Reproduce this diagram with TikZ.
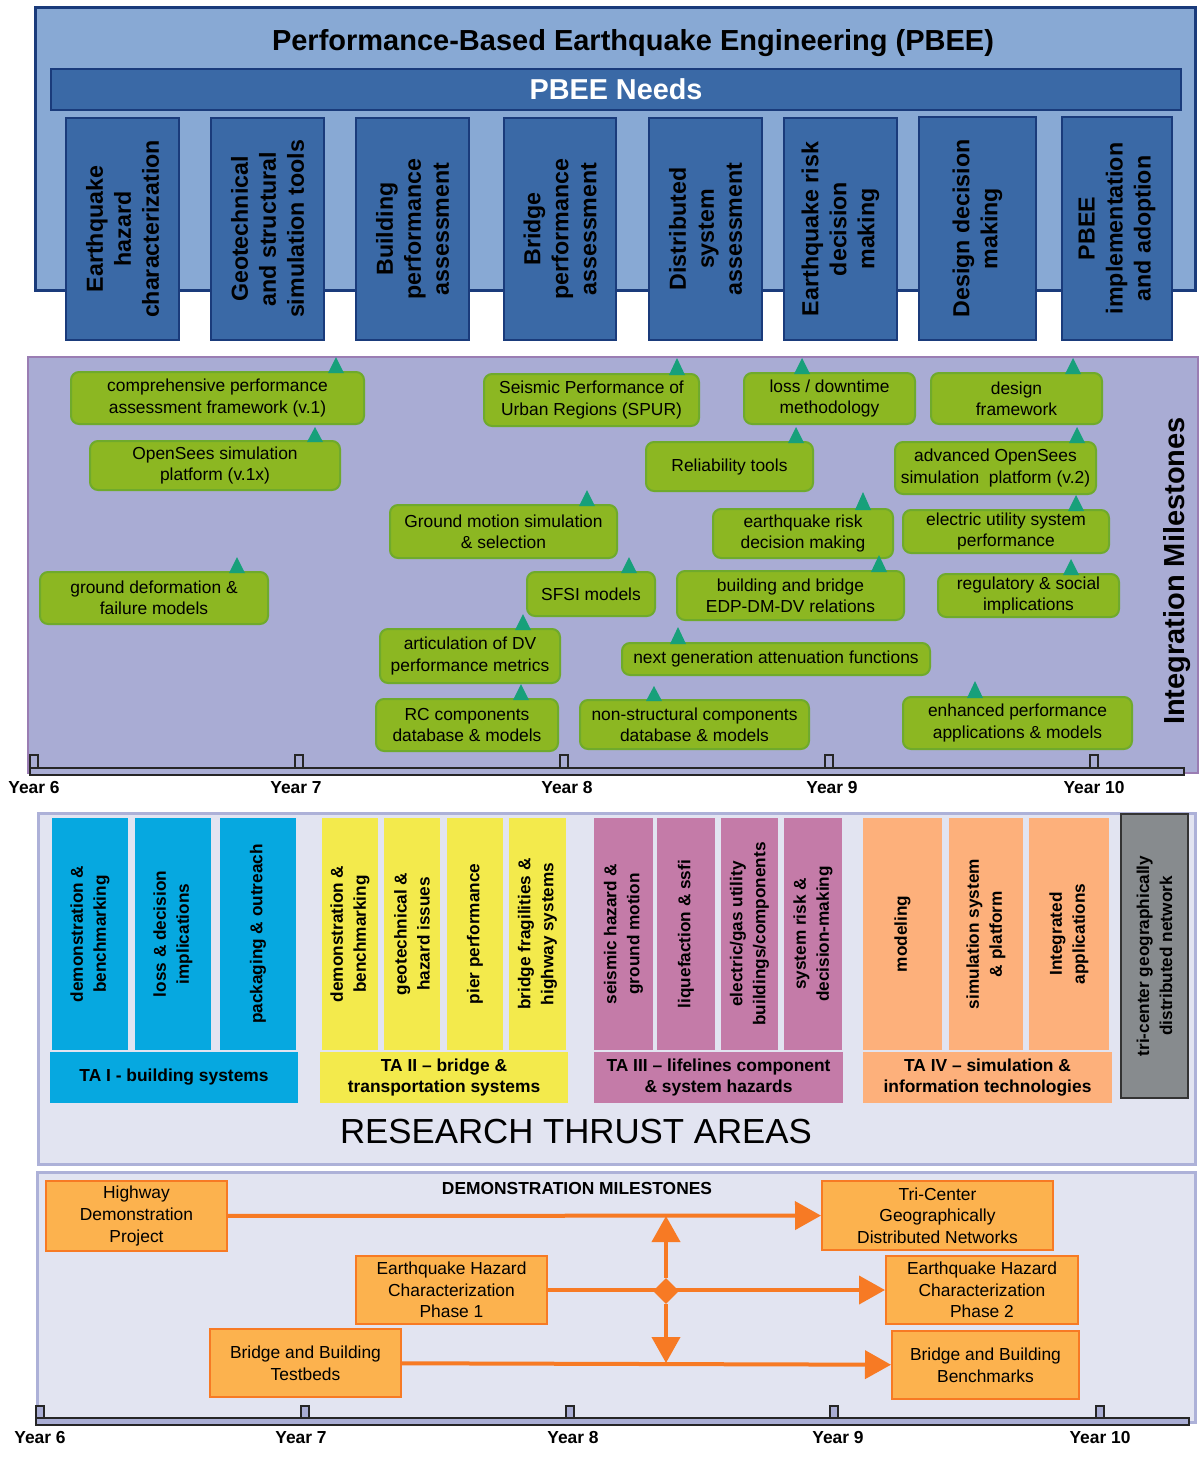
\documentclass[tikz,border=0pt]{standalone}
\usepackage{fontspec}
\setmainfont{Liberation Sans}
\usepackage{tikz}
\usetikzlibrary{arrows.meta,shapes.geometric}
\definecolor{navy}{HTML}{1A3B7B}
\definecolor{skyfill}{HTML}{88A9D4}
\definecolor{needfill}{HTML}{3A69A6}
\definecolor{lavfill}{HTML}{A9ACD4}
\definecolor{lavline}{HTML}{9A7DB3}
\definecolor{msfill}{HTML}{8CB722}
\definecolor{msline}{HTML}{6FAA2C}
\definecolor{msmark}{HTML}{17A07A}
\definecolor{tafill}{HTML}{E2E4F1}
\definecolor{taline}{HTML}{ADB1D8}
\definecolor{taone}{HTML}{06A8E0}
\definecolor{tatwo}{HTML}{F3EA4C}
\definecolor{tathree}{HTML}{C47BA8}
\definecolor{tafour}{HTML}{FDB07B}
\definecolor{netfill}{HTML}{878B8E}
\definecolor{demofill}{HTML}{FCB24E}
\definecolor{demoline}{HTML}{F77A24}
\definecolor{tlfill}{HTML}{A9ADD4}

\begin{document}
\begin{tikzpicture}[x=0.5pt,y=-0.5pt,
            sz/.style 2 args={minimum width=#1*0.5pt,minimum height=#2*0.5pt},
            need/.style={draw=navy,fill=needfill,line width=1pt,rotate=90,align=center,inner sep=0pt,font=\fontsize{11.6}{14}\selectfont\bfseries},
            ms/.style={draw=msline,fill=msfill,line width=1pt,rounded corners=4pt,align=center,inner sep=0pt,font=\fontsize{8.7}{10.6}\selectfont},
            msflag/.style={fill=msmark},
            col/.style={rotate=90,align=center,inner sep=0pt,font=\fontsize{8.6}{11.5}\selectfont\bfseries},
            ta/.style={align=center,inner sep=0pt,font=\fontsize{8.7}{10.5}\selectfont\bfseries},
            demo/.style={draw=demoline,fill=demofill,line width=1pt,align=center,inner sep=0pt,font=\fontsize{8.7}{10.8}\selectfont},
            link/.style={draw=demoline,line width=2pt,-{Triangle[length=13pt,width=14pt]}},
            tline/.style={draw=black!85,fill=tlfill,line width=0.8pt},
            yr/.style={anchor=base,inner sep=0pt,font=\fontsize{8.7}{10}\selectfont\bfseries}]
            \useasboundingbox (0,0) rectangle (1199,1458);
            % PBEE needs
            \draw[draw=navy,fill=skyfill,line width=1.5pt] (35,7) rectangle (1195,290);
            \node[anchor=base,font=\fontsize{14.5}{16}\selectfont\bfseries] (pbee) at (633,50) {Performance-Based Earthquake Engineering (PBEE)};
            \node[draw=navy,fill=needfill,line width=1pt,sz={1130}{41},inner sep=0pt,text=white,font=\fontsize{14.4}{16}\selectfont\bfseries] (needs) at (616,89.5) {PBEE Needs};
            \node[need,sz={222}{113}] (n1) at (122.5,229) {Earthquake\\hazard\\characterization};
            \node[need,sz={222}{113}] (n2) at (267.5,229) {Geotechnical\\and structural\\simulation tools};
            \node[need,sz={222}{113}] (n3) at (412.5,229) {Building\\performance\\assessment};
            \node[need,sz={222}{112}] (n4) at (560,229) {Bridge\\performance\\assessment};
            \node[need,sz={222}{113}] (n5) at (705.5,229) {Distributed\\system\\assessment};
            \node[need,sz={222}{113}] (n6) at (840.5,229) {Earthquake risk\\decision\\making};
            \node[need,sz={223}{117}] (n7) at (977.5,228.5) {Design decision\\making};
            \node[need,sz={223}{110}] (n8) at (1117,228.5) {PBEE\\implementation\\and adoption};
            % integration milestones
            \draw[draw=lavline,fill=lavfill,line width=1pt] (28,357) rectangle (1198,773);
            \node[rotate=90,font=\fontsize{14.5}{16}\selectfont\bfseries] (intm) at (1177,571) {Integration Milestones};
            \node[ms,sz={293}{52}] (g1) at (217.5,398) {comprehensive performance\\assessment framework (v.1)};
            \node[ms,sz={250}{49}] (g2) at (215,465.5) {OpenSees simulation\\platform (v.1x)};
            \node[ms,sz={227}{53}] (g3) at (503.5,531.5) {Ground motion simulation\\\& selection};
            \node[ms,sz={228}{52}] (g4) at (154,598) {ground deformation \&\\failure models};
            \node[ms,sz={128}{44}] (g5) at (591,594) {SFSI models};
            \node[ms,sz={180}{54}] (g6) at (470,656) {articulation of DV\\performance metrics};
            \node[ms,sz={182}{52}] (g7) at (467,725) {RC components\\database \& models};
            \node[ms,sz={215}{52}] (g8) at (591.5,400) {Seismic Performance of\\Urban Regions (SPUR)};
            \node[ms,sz={171}{51}] (g9) at (829.5,398.5) {loss / downtime\\methodology};
            \node[ms,sz={171}{51}] (g10) at (1016.5,398.5) {design\\framework};
            \node[ms,sz={167}{49}] (g11) at (729.5,466.5) {Reliability tools};
            \node[ms,sz={201}{52}] (g12) at (995.5,468) {advanced OpenSees\\simulation\ \ platform (v.2)};
            \node[ms,sz={180}{49}] (g13) at (803,533.5) {earthquake risk\\decision making};
            \node[ms,sz={206}{43}] (g14) at (1006,531.5) {electric utility system\\performance};
            \node[ms,sz={227}{49}] (g15) at (790.5,595.5) {building and bridge\\EDP-DM-DV relations};
            \node[ms,sz={181}{43}] (g16) at (1028.5,595.5) {regulatory \& social\\implications};
            \node[ms,sz={308}{32}] (g17) at (776,659) {next generation attenuation functions};
            \node[ms,sz={229}{49}] (g18) at (694.5,724.5) {non-structural components\\database \& models};
            \node[ms,sz={229}{52}] (g19) at (1017.5,723) {enhanced performance\\applications \& models};
            \fill[msflag] (328,373) -- (344,373) -- (336,357) -- cycle;
            \fill[msflag] (307,442) -- (323,442) -- (315,427) -- cycle;
            \fill[msflag] (579,506) -- (595,506) -- (587,490) -- cycle;
            \fill[msflag] (229,573) -- (245,573) -- (237,557) -- cycle;
            \fill[msflag] (621,573) -- (637,573) -- (629,557) -- cycle;
            \fill[msflag] (515,630) -- (531,630) -- (523,614) -- cycle;
            \fill[msflag] (513,700) -- (529,700) -- (521,684) -- cycle;
            \fill[msflag] (669,375) -- (685,375) -- (677,358) -- cycle;
            \fill[msflag] (794,374) -- (810,374) -- (802,358) -- cycle;
            \fill[msflag] (1065,374) -- (1081,374) -- (1073,358) -- cycle;
            \fill[msflag] (788,443) -- (804,443) -- (796,427) -- cycle;
            \fill[msflag] (1069,443) -- (1085,443) -- (1077,427) -- cycle;
            \fill[msflag] (855,510) -- (871,510) -- (863,492) -- cycle;
            \fill[msflag] (1068,511) -- (1084,511) -- (1076,495) -- cycle;
            \fill[msflag] (871,572) -- (887,572) -- (879,555) -- cycle;
            \fill[msflag] (1063,575) -- (1079,575) -- (1071,559) -- cycle;
            \fill[msflag] (670,644) -- (686,644) -- (678,627) -- cycle;
            \fill[msflag] (646,701) -- (662,701) -- (654,686) -- cycle;
            \fill[msflag] (967,698) -- (983,698) -- (975,681) -- cycle;
            \draw[tline] (30,768) rectangle (1184,775);
            \draw[tline] (30,755) rectangle (38,768);
            \draw[tline] (295,755) rectangle (303,768);
            \draw[tline] (560,755) rectangle (568,768);
            \draw[tline] (825,755) rectangle (833,768);
            \draw[tline] (1090,755) rectangle (1098,768);
            \node[yr] (ya6) at (34,793) {Year 6};
            \node[yr] (ya7) at (296,793) {Year 7};
            \node[yr] (ya8) at (567,793) {Year 8};
            \node[yr] (ya9) at (832,793) {Year 9};
            \node[yr] (ya10) at (1094,793) {Year 10};
            % research thrust areas
            \draw[draw=taline,fill=tafill,line width=1.5pt] (38,813) rectangle (1195,1164);
            \node[col,fill=taone,sz={232}{76}] (b1) at (90,934) {demonstration \&\\benchmarking};
            \node[col,fill=taone,sz={232}{76}] (b2) at (173,934) {loss \& decision\\implications};
            \node[col,fill=taone,sz={232}{76}] (b3) at (258,934) {packaging \& outreach};
            \node[ta,fill=taone,sz={248}{51}] (ta1) at (174,1077.5) {TA I - building systems};
            \node[col,fill=tatwo,sz={232}{56}] (y1) at (350,934) {demonstration \&\\benchmarking};
            \node[col,fill=tatwo,sz={232}{56}] (y2) at (412,934) {geotechnical \&\\hazard issues};
            \node[col,fill=tatwo,sz={232}{56}] (y3) at (475,934) {pier performance};
            \node[col,fill=tatwo,sz={232}{57}] (y4) at (537.5,934) {bridge fragilities \&\\highway systems};
            \node[ta,fill=tatwo,sz={248}{51}] (ta2) at (444,1077.5) {TA II -- bridge \&\\transportation systems};
            \node[col,fill=tathree,sz={232}{59}] (p1) at (623.5,934) {seismic hazard \&\\ground motion};
            \node[col,fill=tathree,sz={232}{58}] (p2) at (686,934) {liquefaction \& ssfi};
            \node[col,fill=tathree,sz={232}{57}] (p3) at (749.5,934) {electric/gas utility\\buildings/components};
            \node[col,fill=tathree,sz={232}{58}] (p4) at (813,934) {system risk \&\\decision-making};
            \node[ta,fill=tathree,sz={249}{51}] (ta3) at (718.5,1077.5) {TA III -- lifelines component\\\& system hazards};
            \node[col,fill=tafour,sz={232}{79}] (o1) at (902.5,934) {modeling};
            \node[col,fill=tafour,sz={232}{74}] (o2) at (986,934) {simulation system\\\& platform};
            \node[col,fill=tafour,sz={232}{80}] (o3) at (1069,934) {Integrated\\applications};
            \node[ta,fill=tafour,sz={249}{51}] (ta4) at (987.5,1077.5) {TA IV -- simulation \&\\information technologies};
            \node[col,draw=black!80,line width=1pt,fill=netfill,sz={284}{67}] (net) at (1154.5,956) {tri-center geographically\\distributed network};
            \node[anchor=base,font=\fontsize{17.4}{20}\selectfont] (rta) at (576,1143) {RESEARCH THRUST AREAS};
            % demonstration milestones
            \draw[draw=taline,fill=tafill,line width=1.5pt] (37,1172) rectangle (1195,1422);
            \node[anchor=base,font=\fontsize{8.7}{10}\selectfont\bfseries] (dm) at (577,1194) {DEMONSTRATION MILESTONES};
            \node[demo,sz={181}{70}] (d1) at (136.5,1216) {Highway\\Demonstration\\Project};
            \node[demo,sz={191}{68}] (d2) at (451.5,1290) {Earthquake Hazard\\Characterization\\Phase 1};
            \node[demo,sz={191}{68}] (d3) at (305.5,1363) {Bridge and Building\\Testbeds};
            \node[demo,sz={231}{69}] (d4) at (937.5,1215.5) {Tri-Center\\Geographically\\Distributed Networks};
            \node[demo,sz={192}{68}] (d5) at (982,1290) {Earthquake Hazard\\Characterization\\Phase 2};
            \node[demo,sz={187}{68}] (d6) at (985.5,1365) {Bridge and Building\\Benchmarks};
            \node[diamond,fill=demoline,inner sep=0pt,minimum size=13pt] (hub) at (666,1291) {};
            \draw[link] (d1) -- (d4);
            \draw[link] (d2) -- (d5);
            \draw[link] (d3) -- (d6);
            \draw[link] (hub) -- (hub |- d1.east);
            \draw[link] (hub) -- (hub |- d3.east);
            \draw[tline] (36,1418) rectangle (1189,1425);
            \draw[tline] (36,1406) rectangle (44,1418);
            \draw[tline] (301,1406) rectangle (309,1418);
            \draw[tline] (566,1406) rectangle (574,1418);
            \draw[tline] (830,1406) rectangle (838,1418);
            \draw[tline] (1096,1406) rectangle (1104,1418);
            \node[yr] (yb6) at (40,1443) {Year 6};
            \node[yr] (yb7) at (301,1443) {Year 7};
            \node[yr] (yb8) at (573,1443) {Year 8};
            \node[yr] (yb9) at (838,1443) {Year 9};
            \node[yr] (yb10) at (1100,1443) {Year 10};
        \end{tikzpicture}
\end{document}
